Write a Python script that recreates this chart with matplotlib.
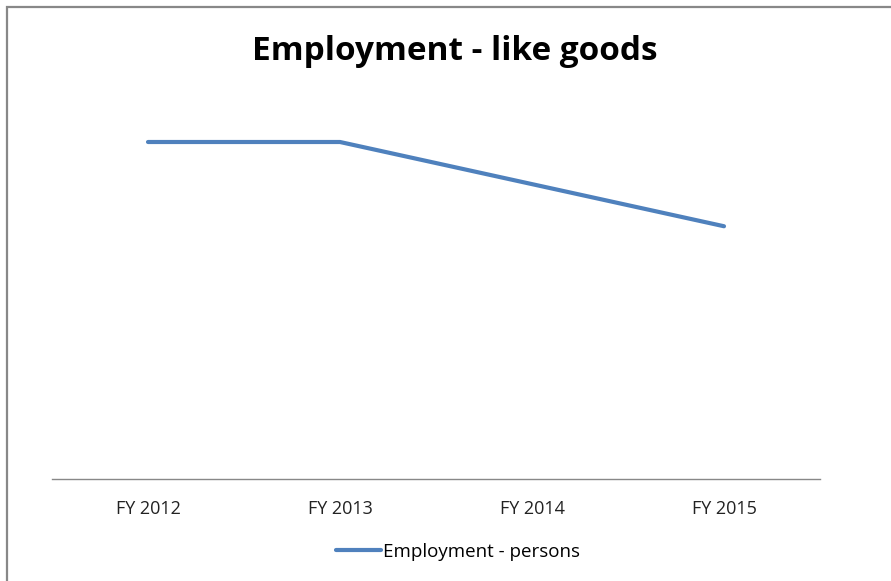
import matplotlib
matplotlib.use('Agg')
import matplotlib.pyplot as plt
from matplotlib.patches import Rectangle

# employment series
years = ['FY 2012', 'FY 2013', 'FY 2014', 'FY 2015']
persons = [4.0, 4.0, 3.5, 3.0]

plt.rcParams['font.family'] = ['Open Sans', 'DejaVu Sans']

fig = plt.figure(figsize=(8.91, 5.81), dpi=100)
W, H = 891, 581

# chart area border (runs off the right and bottom edges)
fig.patches.append(Rectangle((7 / W, -0.1), 1.2, 1 - 7 / H + 0.1, transform=fig.transFigure,
                             fill=False, edgecolor='#888888', linewidth=1.6))

ax = fig.add_axes([52 / W, 1 - 479 / H, 768 / W, (479 - 57.75) / H])
x = list(range(len(years)))
line, = ax.plot(x, persons, color='#4f81bd', linewidth=3, solid_capstyle='round',
                label='Employment - persons')
ax.set_xlim(-0.5, len(years) - 0.5)
ax.set_ylim(0, 5)
ax.set_xticks(x)
ax.set_xticklabels(years, fontsize=13, color='#222222')
ax.tick_params(axis='x', length=0, pad=15)
ax.set_yticks([])
for s in ['top', 'right', 'left']:
    ax.spines[s].set_visible(False)
ax.spines['bottom'].set_color('#888888')
ax.spines['bottom'].set_linewidth(1.0)

fig.text(455 / W, 1 - 52 / H, 'Employment - like goods', ha='center', va='center',
         fontsize=24, fontweight='bold', color='black')

fig.legend(handles=[line], loc='center', bbox_to_anchor=(458 / W, 1 - 552 / H),
           frameon=False, fontsize=13.5, handlelength=2.4, handletextpad=0.1)

fig.savefig('out.png', dpi=100)
